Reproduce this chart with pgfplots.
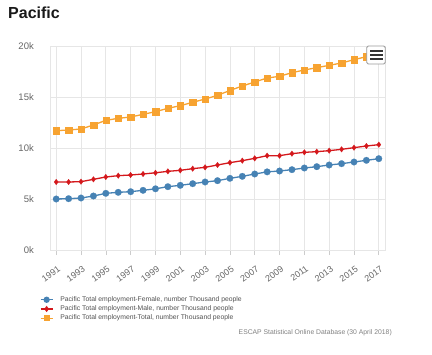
\documentclass[border=0pt]{standalone}
\usepackage{pgfplots}
\pgfplotsset{compat=1.18}
\usepackage{pgfplotstable}
\usepackage{fontspec}
\setmainfont{Liberation Sans}
\definecolor{cblue}{RGB}{70,130,180}
\definecolor{cred}{RGB}{212,24,28}
\definecolor{corange}{RGB}{247,163,49}
\definecolor{gridc}{RGB}{230,230,230}
\definecolor{labc}{RGB}{102,102,102}
\definecolor{legc}{RGB}{80,80,80}

\pgfplotstableread{
year female male total
1991 5000 6667 11696
1992 5033 6667 11765
1993 5098 6699 11863
1994 5294 6928 12255
1995 5556 7157 12712
1996 5654 7288 12908
1997 5719 7353 13039
1998 5850 7451 13300
1999 6000 7570 13562
2000 6209 7712 13889
2001 6340 7810 14150
2002 6503 7974 14477
2003 6667 8105 14804
2004 6797 8333 15163
2005 7026 8562 15640
2006 7222 8758 16078
2007 7451 8987 16470
2008 7660 9248 16863
2009 7745 9248 17026
2010 7876 9444 17386
2011 8039 9575 17647
2012 8170 9641 17876
2013 8333 9739 18105
2014 8464 9869 18333
2015 8627 10033 18660
2016 8791 10196 18954
2017 8954 10327 19280
}\datatable

\begin{document}
\begin{tikzpicture}
\begin{axis}[
  at={(0,0)}, anchor=south west,
  scale only axis, width=335bp, height=204bp,
  xmin=1990.5, xmax=2017.5,
  ymin=0, ymax=20000,
  xtick={1991,1993,...,2017},
  ytick={0,5000,10000,15000,20000},
  yticklabels={0k,5k,10k,15k,20k},
  xticklabel={\pgfmathprintnumber[fixed,1000 sep={}]{\tick}},
  /pgf/number format/assume math mode=true,
  /pgf/number format/1000 sep={},
  scaled ticks=false,
  grid=major,
  grid style={gridc, line width=0.8bp},
  axis line style={gridc, line width=0.8bp},
  tick align=outside,
  major tick length=5bp,
  xtick style={gray!40, line width=0.6bp},
  ytick style={draw=none},
  xtick pos=bottom, ytick pos=left,
  yticklabel style={font=\fontsize{9.5bp}{11bp}\selectfont, text=labc, anchor=east, inner sep=0pt, xshift=-11bp},
  xticklabel style={font=\fontsize{9bp}{11bp}\selectfont, text=labc, rotate=36, anchor=east, inner sep=0pt, xshift=-5bp, yshift=-12bp},
  legend style={at={(axis description cs:-0.0299,-0.228)}, anchor=north west, draw=none, fill=none,
    font=\fontsize{6.8bp}{8bp}\selectfont, text=legc, inner sep=0pt, outer sep=0pt,
    nodes={inner sep=0pt, text height=5bp, text depth=1.5bp},
    row sep=2.7bp, legend cell align=left,
    /tikz/every odd column/.append style={column sep=7bp}},
  legend image code/.code={\draw[#1] (0bp,0bp) -- (6bp,0bp) -- (12bp,0bp); \draw[#1, mark repeat=1, mark options={scale=0.75}] plot coordinates {(6bp,0bp)};},
  clip=false,
]
\addplot[cblue, line width=1.3bp, mark=*, mark size=3.3bp, mark options={solid, fill=cblue, draw=cblue, line width=0.2bp}] table[x=year,y=female] {\datatable};
\addlegendentry{Pacific Total employment-Female, number Thousand people}
\addplot[cred, line width=1.3bp, mark=diamond*, mark size=2.8bp, mark options={solid, fill=cred, draw=cred, line width=0.2bp}] table[x=year,y=male] {\datatable};
\addlegendentry{Pacific Total employment-Male, number Thousand people}
\addplot[corange, line width=1.3bp, mark=square*, mark size=3.2bp, mark options={solid, fill=corange, draw=corange, line width=0.2bp}] table[x=year,y=total] {\datatable};
\addlegendentry{Pacific Total employment-Total, number Thousand people}
\end{axis}
% menu button
\draw[fill=white, draw=gray!80, line width=0.8bp, rounded corners=1.5bp] (316.7bp,186bp) rectangle (335.3bp,204bp);
\foreach \yy in {199,195,191} {\draw[black!80, line width=1.8bp] (320bp,\yy bp) -- (332.7bp,\yy bp);}
% title
\node[anchor=base west, inner sep=0pt, font=\fontsize{16bp}{19bp}\selectfont\bfseries, text=black!90] at (-42bp,231.7bp) {Pacific};
% source
\node[anchor=base east, inner sep=0pt, font=\fontsize{6.8bp}{8bp}\selectfont, text=gray] at (342bp,-84bp) {ESCAP Statistical Online Database (30 April 2018)};
\pgfresetboundingbox
\path[use as bounding box] (-50bp,-105bp) rectangle (382bp,250bp);
\end{tikzpicture}
\end{document}
